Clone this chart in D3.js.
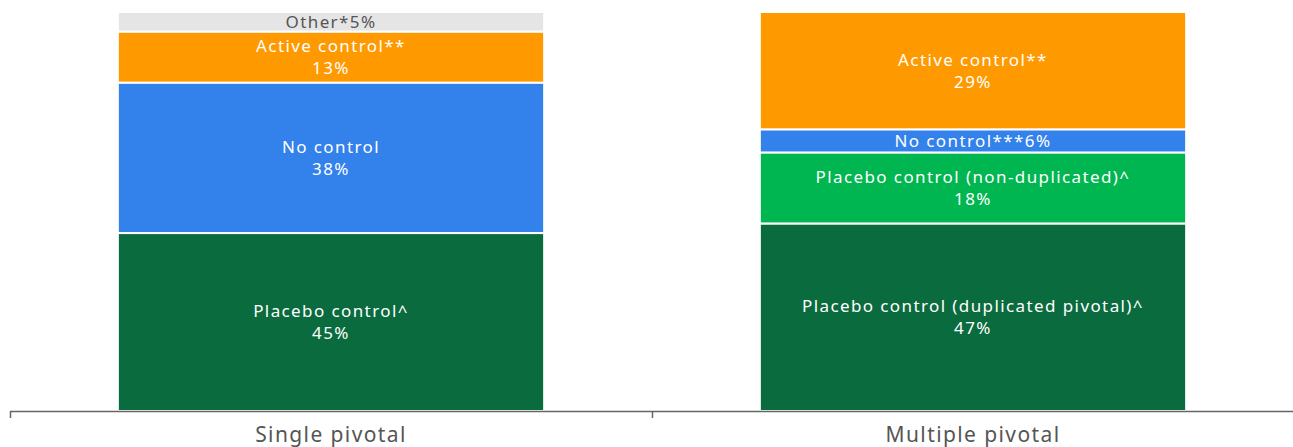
<!DOCTYPE html>
<html lang="en">
<head>
    <meta charset="UTF-8">
    <title>Pivotal trials by control type</title>
    <script src="https://d3js.org/d3.v7.min.js"></script>
    <style>
        body { margin: 0; background: #fff; font-family: "Noto Sans", "Open Sans", Arial, sans-serif; }
        .seg-label { font-size: 17px; fill: #fff; text-anchor: middle; letter-spacing: 1.4px; }
        .cat-label { font-size: 21px; fill: #555; text-anchor: middle; letter-spacing: 1.4px; }
    </style>
</head>
<body>
    <div id="chart"></div>

    <script>
        // categories on the x axis
        const categories = ["Single pivotal", "Multiple pivotal"];

        // segment values (%), one entry per category, bottom to top
        const placeboMain    = [44.6, 47.0];
        const placeboNonDup  = [0, 17.8];
        const noControl      = [37.7, 5.8];
        const activeControl  = [12.8, 29.4];
        const otherControl   = [4.9, 0];

        // segment names, one entry per category
        const placeboMainNames   = ["Placebo control^", "Placebo control (duplicated pivotal)^"];
        const placeboNonDupNames = ["", "Placebo control (non-duplicated)^"];
        const noControlNames     = ["No control", "No control***"];
        const activeNames        = ["Active control**", "Active control**"];
        const otherNames         = ["Other*", ""];

        const seriesKeys = ["placeboMain", "placeboNonDup", "noControl", "active", "other"];
        const seriesValues = {placeboMain: placeboMain, placeboNonDup: placeboNonDup, noControl: noControl, active: activeControl, other: otherControl};
        const seriesNames = {placeboMain: placeboMainNames, placeboNonDup: placeboNonDupNames, noControl: noControlNames, active: activeNames, other: otherNames};
        const colors = {placeboMain: "#0a6b3e", placeboNonDup: "#00b650", noControl: "#3381eb", active: "#fe9900", other: "#e5e5e5"};

        const table = categories.map((c, i) => {
            const row = {category: c, index: i};
            seriesKeys.forEach(k => row[k] = seriesValues[k][i]);
            return row;
        });

        const W = 1293, H = 447;
        const baseY = 411;

        const svg = d3.select("#chart").append("svg")
            .attr("width", W)
            .attr("height", H);

        const x = d3.scaleBand().domain(categories).range([10, 1294]).padding(0);
        const barW = x.bandwidth() * 0.664;
        const y = d3.scaleLinear().domain([0, 100]).range([baseY, 12]);

        const stacked = d3.stack().keys(seriesKeys)(table);

        const layers = svg.selectAll(".layer")
            .data(stacked)
            .enter()
            .append("g")
            .attr("class", "layer")
            .attr("fill", d => colors[d.key]);

        layers.selectAll("rect")
            .data(d => d.filter(s => s[1] - s[0] > 0))
            .enter()
            .append("rect")
            .attr("x", d => x(d.data.category) + (x.bandwidth() - barW) / 2)
            .attr("y", d => y(d[1]))
            .attr("width", barW)
            .attr("height", d => y(d[0]) - y(d[1]))
            .attr("stroke", "#fff")
            .attr("stroke-width", 2);

        // labels
        stacked.forEach(layer => {
            layer.forEach(s => {
                const v = s[1] - s[0];
                if (v <= 0) return;
                const i = s.data.index;
                const name = seriesNames[layer.key][i];
                const pct = Math.round(v) + "%";
                const cx = x(s.data.category) + x.bandwidth() / 2;
                const cy = (y(s[0]) + y(s[1])) / 2;
                const h = y(s[0]) - y(s[1]);
                const t = svg.append("text")
                    .attr("class", "seg-label")
                    .attr("x", cx)
                    .style("fill", layer.key === "other" ? "#555" : "#fff");
                if (h < 30) {
                    t.attr("y", cy + 6).text(name + pct);
                } else {
                    t.append("tspan").attr("x", cx).attr("y", cy - 5).text(name);
                    t.append("tspan").attr("x", cx).attr("y", cy + 17).text(pct);
                }
            });
        });

        // axis: baseline with ticks at band boundaries
        const axis = svg.append("g");
        axis.append("line")
            .attr("x1", 10).attr("x2", W)
            .attr("y1", baseY + 0.5).attr("y2", baseY + 0.5)
            .attr("stroke", "#666").attr("stroke-width", 1.5);
        axis.selectAll(".tick")
            .data(categories)
            .enter()
            .append("line")
            .attr("x1", d => x(d) + 0.5).attr("x2", d => x(d) + 0.5)
            .attr("y1", baseY).attr("y2", baseY + 7)
            .attr("stroke", "#666").attr("stroke-width", 1.5);
        axis.selectAll(".cat-label")
            .data(categories)
            .enter()
            .append("text")
            .attr("class", "cat-label")
            .attr("x", d => x(d) + x.bandwidth() / 2)
            .attr("y", 442)
            .text(d => d);
    </script>
</body>
</html>
